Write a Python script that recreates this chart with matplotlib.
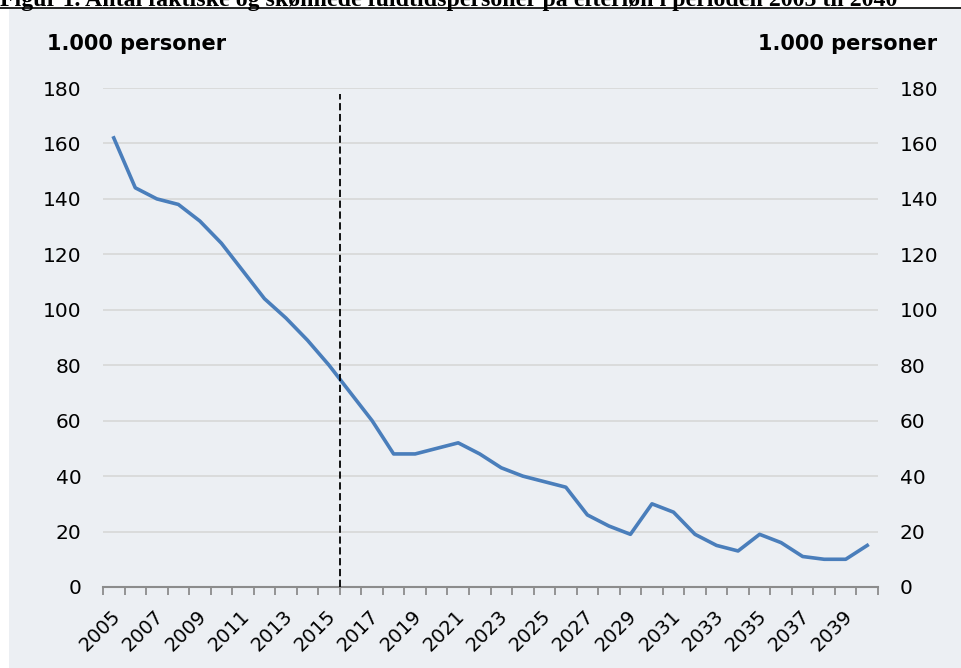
import matplotlib
matplotlib.use("Agg")
import matplotlib.pyplot as plt
from matplotlib.patches import Rectangle
from matplotlib.lines import Line2D
from matplotlib.transforms import ScaledTranslation
import numpy as np

title = "Figur 1. Antal faktiske og skønnede fuldtidspersoner på efterløn i perioden 2005 til 2040"
unit_label = "1.000 personer"
years = list(range(2005, 2041))
values = [162, 144, 140, 138, 132, 124, 114, 104, 97, 89, 80, 70, 60, 48, 48, 50, 52, 48,
          43, 40, 38, 36, 26, 22, 19, 30, 27, 19, 15, 13, 19, 16, 11, 10, 10, 15]
divider_after_year = 2015
divider_top = 178
yticks = [0, 20, 40, 60, 80, 100, 120, 140, 160, 180]

W, H = 962, 668
fig = plt.figure(figsize=(W / 100, H / 100), dpi=100, facecolor="white")

panel_color = "#ECEFF3"
fig.patches.append(Rectangle((9 / W, 0), 1 - 9 / W, 1 - 9 / H, transform=fig.transFigure,
                             facecolor=panel_color, edgecolor="none", zorder=-5))
fig.lines.append(Line2D([0, 1], [1 - 8 / H, 1 - 8 / H], transform=fig.transFigure,
                        color="black", lw=1.2))

t = fig.text(0, 1 - 6 / H, title, family="Liberation Serif", weight="bold", fontsize=14,
             ha="left", va="baseline")
fig.canvas.draw()
bb = t.get_window_extent(fig.canvas.get_renderer())
t.set_fontsize(14 * 897 / bb.width)

left, right, bottom, top = 103 / W, 878 / W, 1 - 587 / H, 1 - 88 / H
ax = fig.add_axes([left, bottom, right - left, top - bottom])
ax.set_facecolor("none")
ax.set_zorder(2)

x = np.arange(len(years))
ax.plot(x, values, color="#4A7EBB", lw=2.6, solid_joinstyle="round", zorder=3)

div_x = years.index(divider_after_year) + 0.5
ax.vlines(div_x, 0, divider_top, colors="black", linestyles=(0, (4, 2)), lw=1.3, zorder=4)

ax.set_xlim(-0.5, len(years) - 0.5)
ax.set_ylim(0, 180)
ax.set_yticks(yticks)
for v in yticks[1:]:
    ax.axhline(v, color="#D9D9D9", lw=1.3, zorder=1)

for s in ["top", "left", "right"]:
    ax.spines[s].set_visible(False)
ax.spines["bottom"].set_color("#8C8C8C")
ax.spines["bottom"].set_linewidth(1.5)
ax.spines["bottom"].set_zorder(2)

ax.set_xticks(np.arange(-0.5, len(years), 1.0), minor=True)
ax.set_xticks(x[::2])
ax.set_xticklabels([str(y) for y in years[::2]], rotation=45, ha="right",
                   va="top", rotation_mode="anchor", fontsize=14, family="DejaVu Sans")
ax.tick_params(axis="x", which="major", length=0, pad=14)
ax.tick_params(axis="x", which="minor", length=6, width=1.3, color="#8C8C8C", direction="out")
shift = ScaledTranslation(-3 / 100, 0, fig.dpi_scale_trans)
for lbl in ax.get_xticklabels():
    lbl.set_transform(lbl.get_transform() + shift)

ax.tick_params(axis="y", length=0, labelsize=14.5, pad=15.5, left=True, right=False,
               labelleft=True, labelright=True)
for lbl in ax.get_yticklabels():
    lbl.set_family("DejaVu Sans")

fig.text(47 / W, 1 - 50 / H, unit_label, fontsize=15, weight="bold", family="DejaVu Sans",
         ha="left", va="baseline")
fig.text(937 / W, 1 - 50 / H, unit_label, fontsize=15, weight="bold", family="DejaVu Sans",
         ha="right", va="baseline")

fig.savefig("out.png", dpi=100, facecolor="white")
